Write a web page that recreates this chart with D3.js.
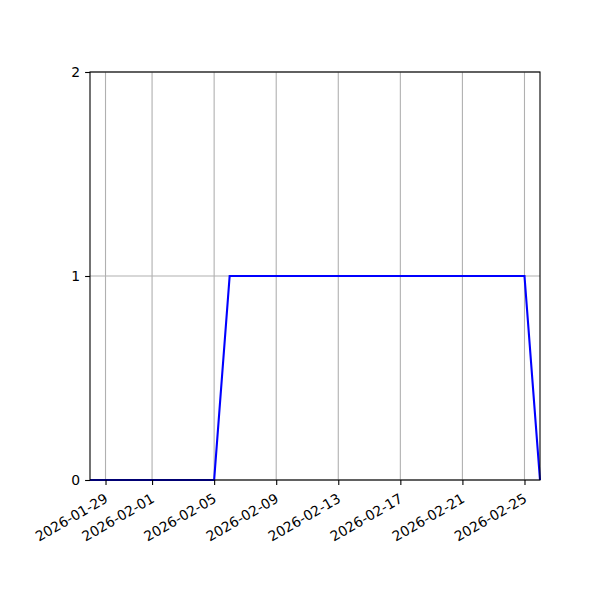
<!DOCTYPE html>
<html>
<head>
<meta charset="utf-8">
<script src="https://d3js.org/d3.v7.min.js"></script>
<style>
  body { margin: 0; background: #fff; }
  text { font-family: "DejaVu Sans", sans-serif; }
</style>
</head>
<body>
<svg></svg>
<script>
// daily values
var dates = ["2026-01-28","2026-01-29","2026-01-30","2026-01-31","2026-02-01","2026-02-02",
    "2026-02-03","2026-02-04","2026-02-05","2026-02-06","2026-02-07","2026-02-08","2026-02-09",
    "2026-02-10","2026-02-11","2026-02-12","2026-02-13","2026-02-14","2026-02-15","2026-02-16",
    "2026-02-17","2026-02-18","2026-02-19","2026-02-20","2026-02-21","2026-02-22","2026-02-23",
    "2026-02-24","2026-02-25","2026-02-26"]
var values = [0,0,0,0,0,0,0,0,0,1,1,1,1,1,1,1,1,1,1,1,1,1,1,1,1,1,1,1,1,0]
var xTicks = ["2026-01-29","2026-02-01","2026-02-05","2026-02-09","2026-02-13","2026-02-17","2026-02-21","2026-02-25"]
var yTicks = [0, 1, 2]

var parse = d3.utcParse("%Y-%m-%d")
var fmt = d3.utcFormat("%Y-%m-%d")
var data = dates.map(function(d, i) { return {date: parse(d), value: values[i]} })

var W = 600, H = 600
var plotL = 90, plotR = 540, plotT = 72, plotB = 480
var svg = d3.select("svg").attr("width", W).attr("height", H)

var x = d3.scaleUtc().domain(d3.extent(data, d => d.date)).range([plotL, plotR])
var y = d3.scaleLinear().domain([0, 2]).range([plotB, plotT])

// grid
svg.append("g").selectAll("line").data(xTicks).enter().append("line")
    .attr("x1", d => x(parse(d))).attr("x2", d => x(parse(d)))
    .attr("y1", plotT).attr("y2", plotB)
    .attr("stroke", "#b0b0b0").attr("stroke-width", 1.1)
svg.append("g").selectAll("line").data(yTicks).enter().append("line")
    .attr("x1", plotL).attr("x2", plotR)
    .attr("y1", d => y(d)).attr("y2", d => y(d))
    .attr("stroke", "#b0b0b0").attr("stroke-width", 1.1)

// line
svg.append("path").datum(data)
    .attr("fill", "none").attr("stroke", "blue").attr("stroke-width", 2.1)
    .attr("d", d3.line().x(d => x(d.date)).y(d => y(d.value)))

// axes
var xAxis = svg.append("g").attr("transform", "translate(0," + plotB + ")")
    .call(d3.axisBottom(x).tickValues(xTicks.map(parse)).tickFormat(fmt).tickSize(4.9).tickPadding(3))
xAxis.select(".domain").remove()
xAxis.selectAll("line").attr("stroke", "black").attr("stroke-width", 1.1)
xAxis.selectAll("text")
    .style("font-size", "13.9px").attr("fill", "black")
    .attr("text-anchor", "end")
    .attr("y", 0).attr("dy", "0.7em")
    .attr("transform", "translate(-2,13) rotate(-30)")

var yAxis = svg.append("g").attr("transform", "translate(" + plotL + ",0)")
    .call(d3.axisLeft(y).tickValues(yTicks).tickFormat(d3.format("d")).tickSize(4.9).tickPadding(4.9))
yAxis.select(".domain").remove()
yAxis.selectAll("line").attr("stroke", "black").attr("stroke-width", 1.1)
yAxis.selectAll("text").style("font-size", "13.9px").attr("fill", "black")

// frame
svg.append("rect").attr("x", plotL).attr("y", plotT)
    .attr("width", plotR - plotL).attr("height", plotB - plotT)
    .attr("fill", "none").attr("stroke", "black").attr("stroke-width", 1.1)
</script>
</body>
</html>
